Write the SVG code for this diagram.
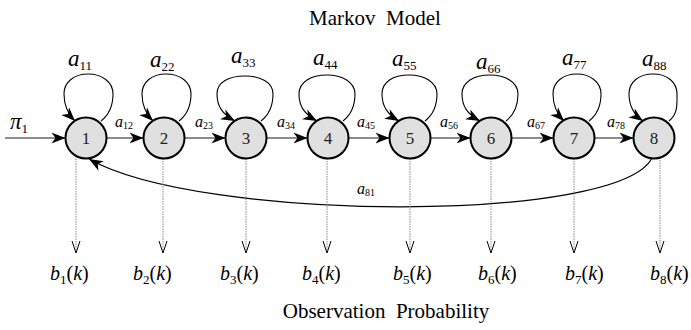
<svg xmlns="http://www.w3.org/2000/svg" width="691" height="330" viewBox="0 0 691 330">
<style>
text{font-family:"Liberation Serif","Times New Roman",serif;fill:#000}
.title{font-size:21px}
.node circle{fill:#e0e0e0;stroke:#000;stroke-width:2}
.node text{font-size:17px;text-anchor:middle;fill:#222}
.h{stroke:#666;stroke-width:1.5;fill:none;marker-end:url(#ah)}
.loop{stroke:#000;stroke-width:1.1;fill:none;marker-end:url(#ah)}
.fb{stroke:#000;stroke-width:1.2;fill:none;marker-end:url(#ah)}
.ob{stroke:#888;stroke-width:1;stroke-dasharray:1.5 1;fill:none;marker-end:url(#ov)}
.aii{font-size:23px;font-style:italic}
.aij{font-size:16px;font-style:italic}
.s1{font-size:13px;font-style:normal}
.s2{font-size:10px;font-style:normal}
.bl{font-size:20px}
.it{font-style:italic}
</style>
<defs>
<marker id="ah" markerWidth="15" markerHeight="13" refX="14" refY="6.5" orient="auto" markerUnits="userSpaceOnUse"><path d="M0,1 L14,6.5 L0,12 L4,6.5 Z" fill="#000"/></marker>
<marker id="ov" markerWidth="10" markerHeight="14" refX="5" refY="13" orient="0" markerUnits="userSpaceOnUse"><path d="M1,1 L5,13 L9,1" fill="none" stroke="#000" stroke-width="1"/></marker>
</defs>
<text class="title" x="375" y="25" text-anchor="middle" xml:space="preserve">Markov  Model</text>
<text class="title" x="386" y="318" text-anchor="middle" xml:space="preserve">Observation  Probability</text>
<g id="connectors">
<path class="h" d="M5,138 H65.5"/>
<path class="h" d="M106.5,138 H143.5"/>
<path class="h" d="M184.5,138 H225.5"/>
<path class="h" d="M266.5,138 H307.5"/>
<path class="h" d="M348.5,138 H389.5"/>
<path class="h" d="M430.5,138 H470.5"/>
<path class="h" d="M511.5,138 H553.5"/>
<path class="h" d="M594.5,138 H633.5"/>
<path class="loop" d="M101,121 C110,114 113,104 113,94 C113,82 102,74 88,74 C74,74 64,82 64,94 C64,106 68,114 75,121"/>
<path class="loop" d="M179,121 C188,114 191,104 191,94 C191,82 180,74 166,74 C152,74 142,82 142,94 C142,106 146,114 153,121"/>
<path class="loop" d="M261,121 C270,114 273,104 273,94 C273,82 260,76 245,76 C229,76 217,82 217,94 C217,106 222,114 235,121"/>
<path class="loop" d="M343,121 C352,114 355,104 355,94 C355,82 342,75 327,75 C311,75 299,82 299,94 C299,106 304,114 317,121"/>
<path class="loop" d="M425,121 C434,114 437,104 437,94 C437,82 424,75 409,75 C393,75 382,82 382,94 C382,106 387,114 399,121"/>
<path class="loop" d="M506,121 C515,114 518,104 518,94 C518,82 505,75 490,75 C474,75 462,82 462,94 C462,106 467,114 480,121"/>
<path class="loop" d="M589,121 C598,114 601,104 601,94 C601,82 590,74 577,74 C563,74 553,82 553,94 C553,106 557,114 564,121"/>
<path class="loop" d="M669,121 C678,114 677,104 677,94 C677,82 667,74 653,74 C639,74 629,82 629,94 C629,106 633,114 643,121"/>
<path class="fb" d="M652,158 C618,224 200,222 89,159"/>
<path class="ob" d="M76,156 V253"/>
<path class="ob" d="M163,158.5 V253"/>
<path class="ob" d="M246,158.5 V253"/>
<path class="ob" d="M327,158.5 V253"/>
<path class="ob" d="M410,158.5 V253"/>
<path class="ob" d="M491,158.5 V253"/>
<path class="ob" d="M574,158.5 V253"/>
<path class="ob" d="M660,157.5 V253"/>
</g>
<g id="n1" class="node"><circle cx="86" cy="138" r="20.5"/><text x="86" y="144">1</text></g>
<g id="n2" class="node"><circle cx="164" cy="138" r="20.5"/><text x="164" y="144">2</text></g>
<g id="n3" class="node"><circle cx="246" cy="138" r="20.5"/><text x="246" y="144">3</text></g>
<g id="n4" class="node"><circle cx="328" cy="138" r="20.5"/><text x="328" y="144">4</text></g>
<g id="n5" class="node"><circle cx="410" cy="138" r="20.5"/><text x="410" y="144">5</text></g>
<g id="n6" class="node"><circle cx="491" cy="138" r="20.5"/><text x="491" y="144">6</text></g>
<g id="n7" class="node"><circle cx="574" cy="138" r="20.5"/><text x="574" y="144">7</text></g>
<g id="n8" class="node"><circle cx="654" cy="138" r="20.5"/><text x="654" y="144">8</text></g>
<g id="labels">
<text x="10" y="129" style="font-size:23px;font-style:italic">π<tspan class="s1" dy="4">1</tspan></text>
<text class="aii" x="68" y="66">a<tspan class="s1" dy="4">11</tspan></text>
<text class="aii" x="150" y="67">a<tspan class="s1" dy="4">22</tspan></text>
<text class="aii" x="231" y="63">a<tspan class="s1" dy="4">33</tspan></text>
<text class="aii" x="313" y="65">a<tspan class="s1" dy="4">44</tspan></text>
<text class="aii" x="392" y="66">a<tspan class="s1" dy="4">55</tspan></text>
<text class="aii" x="476" y="69">a<tspan class="s1" dy="4">66</tspan></text>
<text class="aii" x="562" y="65">a<tspan class="s1" dy="4">77</tspan></text>
<text class="aii" x="642" y="66">a<tspan class="s1" dy="4">88</tspan></text>
<text class="aij" x="115" y="127">a<tspan class="s2" dy="2">12</tspan></text>
<text class="aij" x="195" y="127">a<tspan class="s2" dy="2">23</tspan></text>
<text class="aij" x="277" y="127">a<tspan class="s2" dy="2">34</tspan></text>
<text class="aij" x="357" y="127">a<tspan class="s2" dy="2">45</tspan></text>
<text class="aij" x="440" y="127">a<tspan class="s2" dy="2">56</tspan></text>
<text class="aij" x="527" y="127">a<tspan class="s2" dy="2">67</tspan></text>
<text class="aij" x="607" y="127">a<tspan class="s2" dy="2">78</tspan></text>
<text class="aij" x="357" y="194">a<tspan class="s2" dy="2">81</tspan></text>
<text class="bl" x="50" y="280"><tspan class="it">b</tspan><tspan class="s1" dy="4">1</tspan><tspan dy="-4">(</tspan><tspan class="it">k</tspan>)</text>
<text class="bl" x="133" y="280"><tspan class="it">b</tspan><tspan class="s1" dy="4">2</tspan><tspan dy="-4">(</tspan><tspan class="it">k</tspan>)</text>
<text class="bl" x="220" y="280"><tspan class="it">b</tspan><tspan class="s1" dy="4">3</tspan><tspan dy="-4">(</tspan><tspan class="it">k</tspan>)</text>
<text class="bl" x="302" y="280"><tspan class="it">b</tspan><tspan class="s1" dy="4">4</tspan><tspan dy="-4">(</tspan><tspan class="it">k</tspan>)</text>
<text class="bl" x="393" y="280"><tspan class="it">b</tspan><tspan class="s1" dy="4">5</tspan><tspan dy="-4">(</tspan><tspan class="it">k</tspan>)</text>
<text class="bl" x="478" y="280"><tspan class="it">b</tspan><tspan class="s1" dy="4">6</tspan><tspan dy="-4">(</tspan><tspan class="it">k</tspan>)</text>
<text class="bl" x="565" y="280"><tspan class="it">b</tspan><tspan class="s1" dy="4">7</tspan><tspan dy="-4">(</tspan><tspan class="it">k</tspan>)</text>
<text class="bl" x="650" y="280"><tspan class="it">b</tspan><tspan class="s1" dy="4">8</tspan><tspan dy="-4">(</tspan><tspan class="it">k</tspan>)</text>
</g>
</svg>
